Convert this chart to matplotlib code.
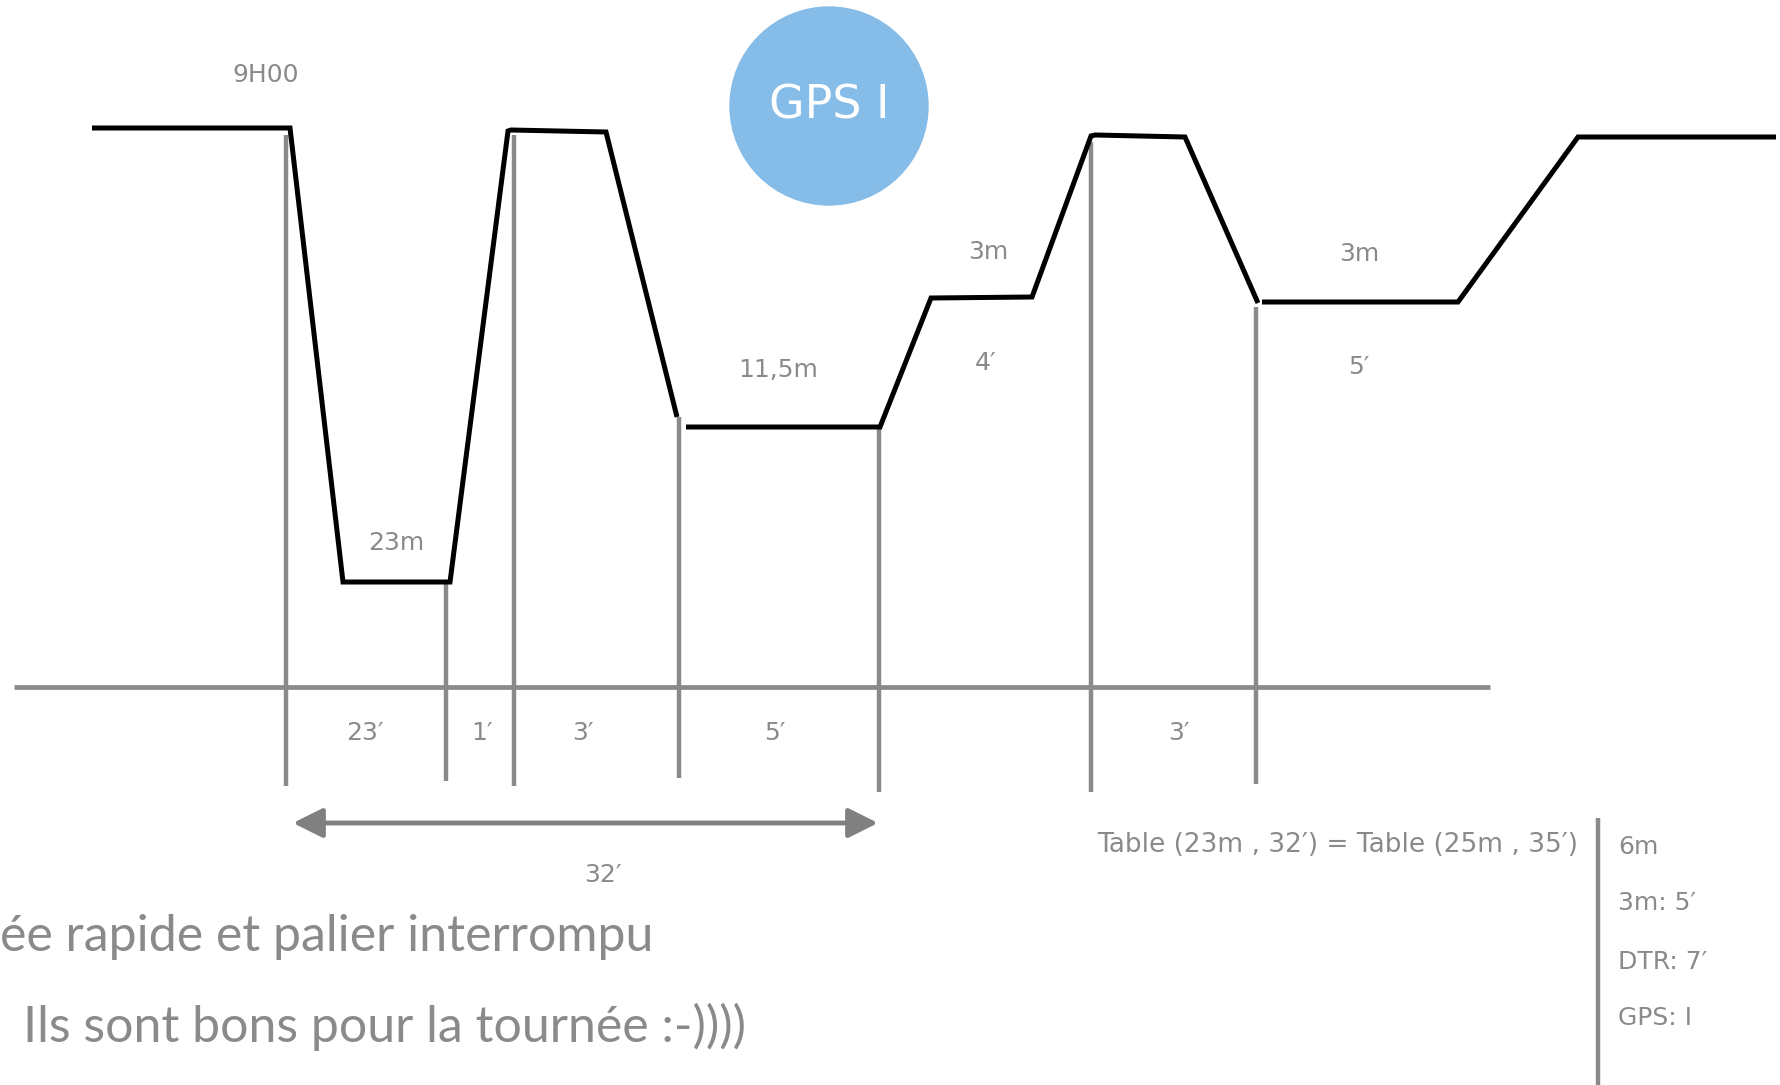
import matplotlib
matplotlib.use("Agg")
import matplotlib.pyplot as plt
from matplotlib.patches import Circle, FancyArrowPatch

# ---- data (picture coordinates, y grows downward) ----
profile_pieces_x = [[92, 290, 343, 450, 508, 511, 606, 677],
                    [686, 880, 931, 1032, 1091, 1095, 1185, 1258],
                    [1262, 1458, 1578, 1776]]
profile_pieces_y = [[128, 128, 582, 582, 131, 130, 132, 417],
                    [427, 427, 298, 297, 136, 135, 137, 303],
                    [302, 302, 137, 137]]

vert_x = [286, 446, 514, 679, 879, 1091, 1256]
vert_top = [135, 582, 135, 417, 427, 142, 307]
vert_bot = [786, 781, 786, 778, 792, 792, 784]

axis_y = 687
axis_x = [14, 1490]

seg_labels = ["23′", "1′", "3′", "5′", "3′"]
seg_label_x = [365, 482, 583, 775, 1179]
seg_label_y = 733

depth_labels = ["9H00", "23m", "11,5m", "3m", "4′", "3m", "5′"]
depth_label_x = [266, 396, 778, 988, 986, 1359, 1359]
depth_label_y = [75, 543, 370, 252, 363, 254, 367]

arrow_x = [293, 878]
arrow_y = 823
arrow_label = "32′"
arrow_label_x = 603

side_items = ["6m", "3m: 5′", "DTR: 7′", "GPS: I"]
side_y = [847, 903, 962, 1018]

GRAY = "#8a8a8a"
FONT = "DejaVu Sans"
BIG = ["Lato", "DejaVu Sans"]

fig = plt.figure(figsize=(17.81, 10.85), dpi=100)
ax = fig.add_axes([0, 0, 1, 1])
ax.set_xlim(0, 1781)
ax.set_ylim(1085, 0)
ax.axis("off")

# time axis and verticals
ax.plot(axis_x, [axis_y, axis_y], color=GRAY, lw=3.4, solid_capstyle="butt")
for x, t, b in zip(vert_x, vert_top, vert_bot):
    ax.plot([x, x], [t, b], color=GRAY, lw=3.2, solid_capstyle="butt")

# dive profile
for px, py in zip(profile_pieces_x, profile_pieces_y):
    ax.plot(px, py, color="black", lw=3.6, solid_joinstyle="miter", solid_capstyle="butt")

# GPS circle
ax.add_patch(Circle((829, 106), 99, color="#86bce8", zorder=3))
ax.text(829, 106, "GPS I", color="white", fontsize=33, ha="center", va="center",
        family=FONT, zorder=4)

for s, x in zip(seg_labels, seg_label_x):
    ax.text(x, seg_label_y, s, color=GRAY, fontsize=18, ha="center", va="center", family=FONT)
for s, x, y in zip(depth_labels, depth_label_x, depth_label_y):
    ax.text(x, y, s, color=GRAY, fontsize=18, ha="center", va="center", family=FONT)

# double arrow
ax.add_patch(FancyArrowPatch((arrow_x[0], arrow_y), (arrow_x[1], arrow_y),
                             arrowstyle="<|-|>,head_length=18,head_width=9",
                             color="#808080", lw=3.5, shrinkA=0, shrinkB=0))
ax.text(arrow_label_x, 875, arrow_label, color=GRAY, fontsize=18,
        ha="center", va="center", family=FONT)

# table note
ax.text(1578, 845, "Table (23m , 32′) = Table (25m , 35′)", color=GRAY, fontsize=19,
        ha="right", va="center", family=FONT)
ax.plot([1598, 1598], [818, 1085], color=GRAY, lw=3.2, solid_capstyle="butt")
for s, y in zip(side_items, side_y):
    ax.text(1618, y, s, color=GRAY, fontsize=18, ha="left", va="center", family=FONT)

# bottom comments
ax.text(0, 937, "ée rapide et palier interrompu", color=GRAY, fontsize=36,
        ha="left", va="center", family=BIG)
ax.text(23, 1027, "Ils sont bons pour la tournée :-))))", color=GRAY, fontsize=36,
        ha="left", va="center", family=BIG)

fig.savefig("out.png", dpi=100)
